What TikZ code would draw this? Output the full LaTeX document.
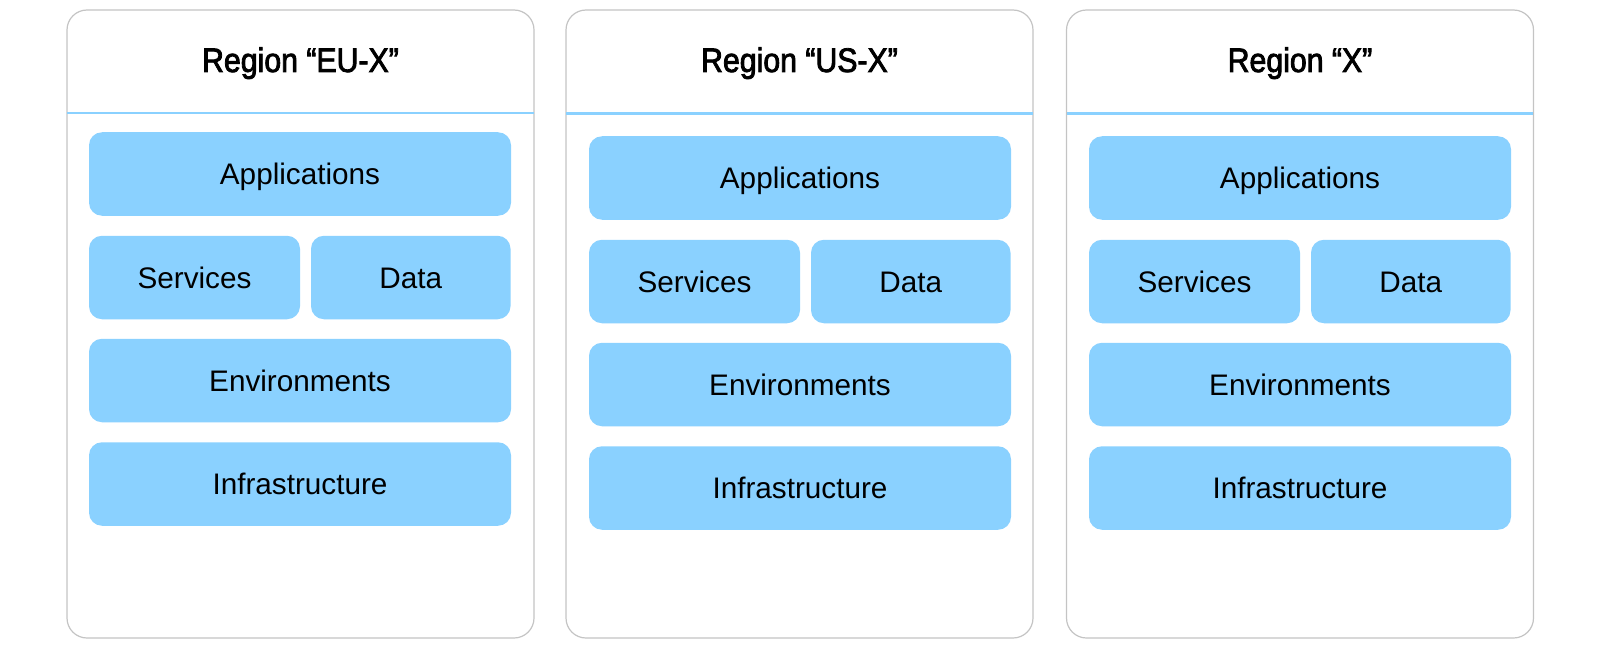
\documentclass[tikz,border=0pt]{standalone}
\usepackage{fontspec}
\setmainfont{Liberation Sans}
\newfontfamily\titlefont[FakeStretch=0.89,FakeBold=2.4]{Liberation Sans}
\definecolor{boxblue}{HTML}{8AD1FF}
\definecolor{panelgray}{HTML}{C4C4C4}
\begin{document}
\begin{tikzpicture}[x=1pt,y=-1pt,
  panel/.style={draw=panelgray, line width=1.2pt, rounded corners=20pt, fill=white,
    minimum width=467pt, minimum height=628pt, inner sep=0pt},
  layer/.style={fill=boxblue, rounded corners=13pt, inner sep=0pt, minimum height=83.5pt,
    text height=21.3pt, text depth=0pt, font=\fontsize{29.7}{30}\selectfont},
  wide/.style={layer, minimum width=422pt},
  left/.style={layer, minimum width=211pt},
  right/.style={layer, minimum width=199.5pt},
  title/.style={inner sep=0pt, text height=24pt, text depth=0pt,
    font=\titlefont\fontsize{34}{35}\selectfont},
  hline/.style={draw=boxblue, line width=2.8pt}]
\useasboundingbox (0,0) rectangle (1600,650);

% Panel 1
\node[panel] (p1) at (300.5,324) {};
\node[title] (t1) at (300.5,60) {Region “EU-X”};
\coordinate (h1a) at (67,113); \coordinate (h1b) at (534,113);
\draw[hline] (h1a) -- (h1b);
\node[wide]  (a1) at (300,174) {Applications};
\node[left]  (s1) at (194.5,277.5) {Services};
\node[right] (d1) at (410.75,277.5) {Data};
\node[wide]  (e1) at (300,380.5) {Environments};
\node[wide]  (i1) at (300,484) {Infrastructure};

% Panel 2
\node[panel] (p2) at (799.5,324) {};
\node[title] (t2) at (799.5,60) {Region “US-X”};
\coordinate (h2a) at (566,113.5); \coordinate (h2b) at (1033,113.5);
\draw[hline] (h2a) -- (h2b);
\node[wide]  (a2) at (800,178) {Applications};
\node[left]  (s2) at (694.5,281.5) {Services};
\node[right] (d2) at (910.75,281.5) {Data};
\node[wide]  (e2) at (800,384.5) {Environments};
\node[wide]  (i2) at (800,488) {Infrastructure};

% Panel 3
\node[panel] (p3) at (1300,324) {};
\node[title] (t3) at (1300,60) {Region “X”};
\coordinate (h3a) at (1067,113.5); \coordinate (h3b) at (1533,113.5);
\draw[hline] (h3a) -- (h3b);
\node[wide]  (a3) at (1300,178) {Applications};
\node[left]  (s3) at (1194.5,281.5) {Services};
\node[right] (d3) at (1410.75,281.5) {Data};
\node[wide]  (e3) at (1300,384.5) {Environments};
\node[wide]  (i3) at (1300,488) {Infrastructure};
\end{tikzpicture}
\end{document}
